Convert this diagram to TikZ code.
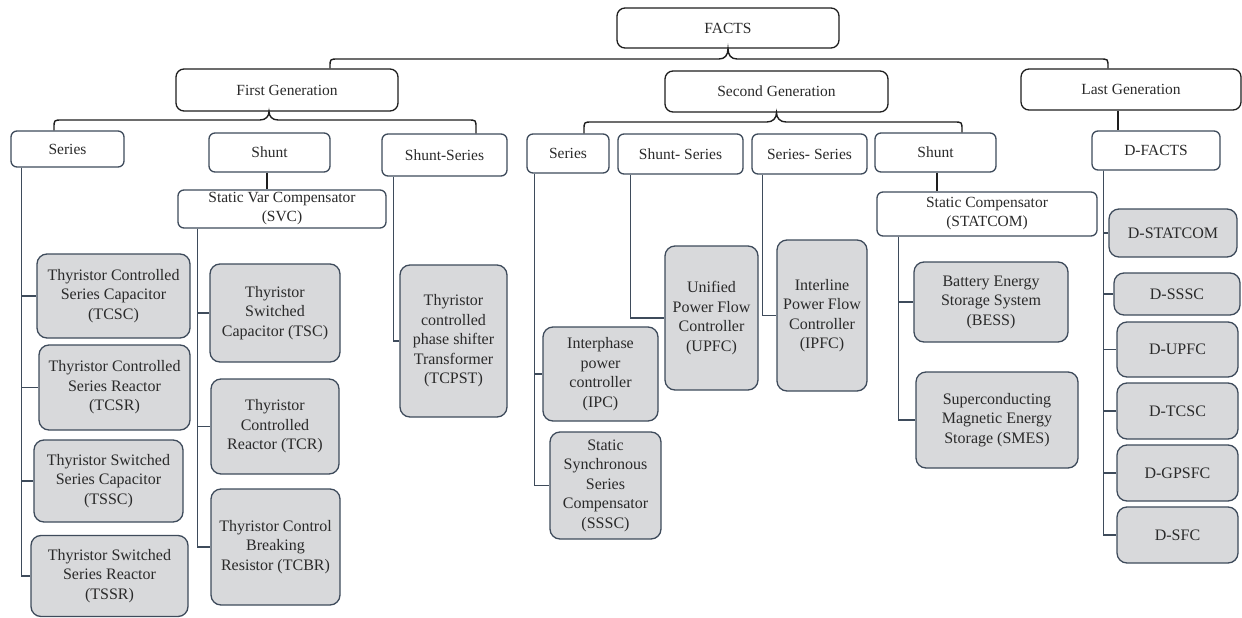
\documentclass[tikz,border=0pt]{standalone}
\usepackage{fontspec}
\setmainfont{Liberation Serif}
\definecolor{ink}{HTML}{1E1E1E}
\definecolor{slate}{HTML}{3E4B5B}
\definecolor{leaffill}{HTML}{D8D9DB}
\definecolor{txt}{HTML}{2A2A2A}
\begin{document}
\begin{tikzpicture}[x=1pt,y=-1pt,
  box/.style={draw=ink, line width=1.3pt, rounded corners=8pt, fill=white,
    inner sep=0pt, align=center, text=txt, font=\fontsize{15.5}{19}\selectfont},
  sub/.style={box, draw=slate, rounded corners=6pt},
  leaf/.style={box, draw=slate, fill=leaffill, rounded corners=10pt,
    font=\fontsize{16}{19.5}\selectfont},
  conn/.style={draw=slate, line width=1.3pt},
  bconn/.style={draw=ink, line width=1.8pt},
  brace/.style={draw=ink, line width=1.4pt},
  sz/.style 2 args={minimum width=#1pt, minimum height=#2pt}]
\useasboundingbox (0,0) rectangle (1242,618);

% ---- root and generations ----
\node[box, sz={222}{40}] (facts) at (728,28) {FACTS};
\node[box, sz={222}{42}] (gen1) at (287,90) {First Generation};
\node[box, sz={223}{41}] (gen2) at (776.5,91.5) {Second Generation};
\node[box, sz={220}{41}] (gen3) at (1131,89.5) {Last Generation};

% ---- categories ----
\node[sub, sz={113}{36}] (ser1) at (67.5,149) {Series};
\node[sub, sz={121}{39}] (shunt1) at (269.5,152.5) {Shunt};
\node[sub, sz={125}{42}] (shser1) at (444.5,155) {Shunt-Series};
\node[sub, sz={82}{39}] (ser2) at (568,153.5) {Series};
\node[sub, sz={125}{40}] (shser2) at (680.5,154) {Shunt- Series};
\node[sub, sz={115}{40}] (serser) at (809.5,154) {Series- Series};
\node[sub, sz={121}{39}] (shunt2) at (935.5,152.5) {Shunt};
\node[sub, sz={128}{39}] (dfacts) at (1156,150.5) {D-FACTS};
\node[sub, sz={208}{38}] (svc) at (282,209) {Static Var Compensator\\(SVC)};
\node[sub, sz={220}{44}] (statcom) at (987,214) {Static Compensator\\(STATCOM)};

% ---- devices ----
\node[leaf, sz={153}{84}] (tcsc) at (113.5,296) {Thyristor Controlled\\Series Capacitor\\(TCSC)};
\node[leaf, sz={151}{85}] (tcsr) at (114.5,387.5) {Thyristor Controlled\\Series Reactor\\(TCSR)};
\node[leaf, sz={149}{82}] (tssc) at (108.5,481) {Thyristor Switched\\Series Capacitor\\(TSSC)};
\node[leaf, sz={157}{81}] (tssr) at (109.5,576) {Thyristor Switched\\Series Reactor\\(TSSR)};
\node[leaf, sz={130}{98}] (tsc) at (275,313) {Thyristor\\Switched\\Capacitor (TSC)};
\node[leaf, sz={128}{95}] (tcr) at (275,426.5) {Thyristor\\Controlled\\Reactor (TCR)};
\node[leaf, sz={129}{116}] (tcbr) at (275.5,547) {Thyristor Control\\Breaking\\Resistor (TCBR)};
\node[leaf, sz={107}{152}] (tcpst) at (453.5,341) {Thyristor\\controlled\\phase shifter\\Transformer\\(TCPST)};
\node[leaf, sz={115}{94}] (ipc) at (600.5,374) {Interphase\\power\\controller\\(IPC)};
\node[leaf, sz={111}{107}] (sssc) at (605.5,485.5) {Static\\Synchronous\\Series\\Compensator\\(SSSC)};
\node[leaf, sz={93}{144}] (upfc) at (711.5,318) {Unified\\Power Flow\\Controller\\(UPFC)};
\node[leaf, sz={90}{151}] (ipfc) at (822,315.5) {Interline\\Power Flow\\Controller\\(IPFC)};
\node[leaf, sz={154}{80}] (bess) at (991,302) {Battery Energy\\Storage System\\(BESS)};
\node[leaf, sz={162}{96}] (smes) at (997,420) {Superconducting\\Magnetic Energy\\Storage (SMES)};
\node[leaf, sz={128}{48}] (dstatcom) at (1173,233) {D-STATCOM};
\node[leaf, sz={126}{42}] (dsssc) at (1177,294) {D-SSSC};
\node[leaf, sz={121}{55}] (dupfc) at (1177.5,349.5) {D-UPFC};
\node[leaf, sz={121}{56}] (dtcsc) at (1177.5,411) {D-TCSC};
\node[leaf, sz={121}{56}] (dgpsfc) at (1177.5,473) {D-GPSFC};
\node[leaf, sz={121}{56}] (dsfc) at (1177.5,535) {D-SFC};

% ---- braces from the upper levels ----
\draw[brace] (gen1.north -| 330,0) -- (330,67) .. controls (330,59) .. (338,59)
  -- (719,59) .. controls (725,59) and (728,55) .. (facts.south)
  .. controls (728,55) and (731,59) .. (737,59) -- (1100,59)
  .. controls (1108,59) .. (1108,67) -- (gen3.north -| 1108,0);
\draw[brace] (ser1.north -| 54,0) -- (54,128) .. controls (54,120) .. (62,120)
  -- (260,120) .. controls (266,120) and (269,116) .. (gen1.south -| 269,0)
  .. controls (269,116) and (272,120) .. (278,120) -- (468,120)
  .. controls (476,120) .. (476,128) -- (shser1.north -| 476,0);
\draw[brace] (ser2.north -| 584,0) -- (584,130) .. controls (584,122) .. (592,122)
  -- (767,122) .. controls (773,122) and (776.5,118) .. (gen2.south)
  .. controls (776.5,118) and (780,122) .. (786,122) -- (954,122)
  .. controls (962,122) .. (962,130) -- (shunt2.north -| 962,0);

% ---- single drops ----
\draw[bconn] (shunt1.south -| 267,0) -- (svc.north -| 267,0);
\draw[bconn] (shunt2.south -| 937,0) -- (statcom.north -| 937,0);
\draw[bconn] (gen3.south -| 1118,0) -- (dfacts.north -| 1118,0);

% ---- trunks with side branches ----
\coordinate (t1) at ([xshift=11pt]ser1.south west);
\coordinate (t2) at ([xshift=20pt]svc.south west);
\coordinate (t3) at ([xshift=12pt]shser1.south west);
\coordinate (t4) at ([xshift=8pt]ser2.south west);
\coordinate (t5) at ([xshift=13pt]shser2.south west);
\coordinate (t6) at ([xshift=11pt]serser.south west);
\coordinate (t7) at ([xshift=22pt]statcom.south west);
\coordinate (t8) at ([xshift=12pt]dfacts.south west);
\foreach \c in {tcsc,tcsr,tssc,tssr} \draw[conn] (t1) |- (\c.west);
\foreach \c in {tsc,tcr,tcbr} \draw[conn] (t2) |- (\c.west);
\draw[conn] (t3) |- (tcpst.west);
\foreach \c in {ipc,sssc} \draw[conn] (t4) |- (\c.west);
\draw[conn] (t5) |- (upfc.west);
\draw[conn] (t6) |- (ipfc.west);
\foreach \c in {bess,smes} \draw[conn] (t7) |- (\c.west);
\foreach \c in {dstatcom,dsssc,dupfc,dtcsc,dgpsfc,dsfc} \draw[conn] (t8) |- (\c.west);
\end{tikzpicture}
\end{document}
